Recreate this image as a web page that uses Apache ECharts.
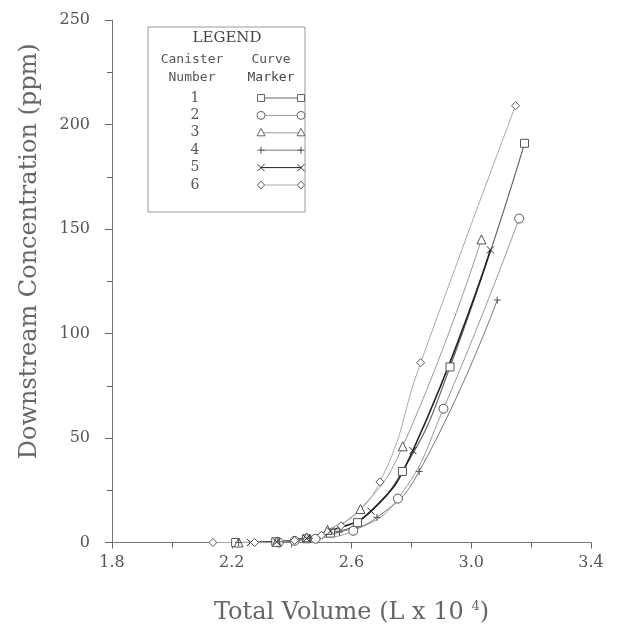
<!DOCTYPE html>
<html>
<head>
<meta charset="utf-8">
<script src="https://cdn.jsdelivr.net/npm/echarts@6/dist/echarts.min.js"></script>
<style>html,body{margin:0;padding:0;background:#fff;}#c{width:629px;height:630px;}</style>
</head>
<body>
<div id="c"></div>
<script>
// ---- data ----
var canisterNames = ['1', '2', '3', '4', '5', '6'];
var xTicks = [1.8, 2.2, 2.6, 3.0, 3.4];
var yTicks = [0, 50, 100, 150, 200, 250];
var canister1 = [[2.213,0],[2.347,0.4],[2.45,1.8],[2.53,4.5],[2.62,9.5],[2.77,34],[2.929,84],[3.178,191]];
var canister2 = [[2.357,0],[2.41,0.8],[2.48,1.8],[2.606,5.6],[2.755,21],[2.907,64],[3.16,155]];
var canister3 = [[2.223,0],[2.35,0.3],[2.45,2.5],[2.52,6],[2.63,16],[2.771,46],[3.034,145]];
var canister4 = [[2.223,0],[2.36,0.3],[2.46,2],[2.56,5],[2.685,12],[2.826,34],[3.087,116]];
var canister5 = [[2.263,0],[2.35,0.3],[2.45,2],[2.53,5.5],[2.665,15],[2.805,44],[3.064,140]];
var canister6 = [[2.137,0],[2.276,0],[2.41,1],[2.50,3.5],[2.565,8],[2.695,29],[2.831,86],[3.148,209]];
var allData = [canister1, canister2, canister3, canister4, canister5, canister6];

// ---- styles ----
var symbols = ['rect', 'circle', 'triangle',
  'path://M5,0L5,10M0,5L10,5',
  'path://M0,0L10,10M10,0L0,10',
  'diamond'];
var lineColors = ['#666', '#999', '#999', '#777', '#222', '#aaa'];
var lineWidths = [1.2, 1, 1, 1, 1.6, 1];
var symSizes = [8, 9, 9, 7, 7, 8];

var FONT = 'DejaVu Serif';
var series = allData.map(function (d, i) {
  return {
    name: canisterNames[i],
    type: 'line',
    data: d,
    smooth: 0.5,
    symbol: symbols[i],
    symbolSize: symSizes[i],
    showAllSymbol: true,
    lineStyle: {color: lineColors[i], width: lineWidths[i]},
    itemStyle: {color: '#fff', borderColor: i === 4 ? '#222' : '#555', borderWidth: 1},
    emphasis: {disabled: true},
    z: 3
  };
});

// ---- legend box via graphic ----
var gx = 148, gy = 27;
var legendChildren = [
  {type: 'rect', shape: {x: gx, y: gy, width: 157, height: 185},
   style: {fill: '#fff', stroke: '#999', lineWidth: 1}},
  {type: 'text', style: {x: 227, y: 38, text: 'LEGEND', font: '15px "' + FONT + '"', fill: '#444', textAlign: 'center', textVerticalAlign: 'middle'}},
  {type: 'text', style: {x: 192, y: 60, text: 'Canister', font: '13px "DejaVu Sans Mono"', fill: '#555', textAlign: 'center', textVerticalAlign: 'middle'}},
  {type: 'text', style: {x: 192, y: 78, text: 'Number', font: '13px "DejaVu Sans Mono"', fill: '#555', textAlign: 'center', textVerticalAlign: 'middle'}},
  {type: 'text', style: {x: 271, y: 60, text: 'Curve', font: '13px "DejaVu Sans Mono"', fill: '#555', textAlign: 'center', textVerticalAlign: 'middle'}},
  {type: 'text', style: {x: 271, y: 78, text: 'Marker', font: '13px "DejaVu Sans Mono"', fill: '#444', textAlign: 'center', textVerticalAlign: 'middle'}}
];
function markerShape(i, cx, cy) {
  var st = {fill: '#fff', stroke: '#666', lineWidth: 1};
  var r = 3.5;
  if (i === 0) return {type: 'rect', shape: {x: cx - r, y: cy - r, width: 2 * r, height: 2 * r}, style: st};
  if (i === 1) return {type: 'circle', shape: {cx: cx, cy: cy, r: r + 0.5}, style: st};
  if (i === 2) return {type: 'polygon', shape: {points: [[cx, cy - r - 1], [cx + r + 0.5, cy + r - 0.5], [cx - r - 0.5, cy + r - 0.5]]}, style: st};
  if (i === 3) return {type: 'group', children: [
    {type: 'line', shape: {x1: cx - r, y1: cy, x2: cx + r, y2: cy}, style: {stroke: '#555'}},
    {type: 'line', shape: {x1: cx, y1: cy - r, x2: cx, y2: cy + r}, style: {stroke: '#555'}}]};
  if (i === 4) return {type: 'group', children: [
    {type: 'line', shape: {x1: cx - r, y1: cy - r, x2: cx + r, y2: cy + r}, style: {stroke: '#333'}},
    {type: 'line', shape: {x1: cx + r, y1: cy - r, x2: cx - r, y2: cy + r}, style: {stroke: '#333'}}]};
  return {type: 'polygon', shape: {points: [[cx, cy - r - 0.5], [cx + r, cy], [cx, cy + r + 0.5], [cx - r, cy]]}, style: st};
}
canisterNames.forEach(function (n, i) {
  var yy = 98 + i * 17.4;
  legendChildren.push({type: 'text', style: {x: 195, y: yy, text: n, font: '14px "' + FONT + '"', fill: '#555', textAlign: 'center', textVerticalAlign: 'middle'}});
  legendChildren.push({type: 'line', shape: {x1: 260, y1: yy, x2: 302, y2: yy}, style: {stroke: lineColors[i], lineWidth: 1}});
  legendChildren.push(markerShape(i, 261, yy));
  legendChildren.push(markerShape(i, 301, yy));
});

var chart = echarts.init(document.getElementById('c'), null, {renderer: 'canvas'});
chart.setOption({
  backgroundColor: '#fff',
  animation: false,
  grid: {left: 112, right: 38, top: 20, bottom: 85, containLabel: false},
  xAxis: {
    type: 'value', min: xTicks[0], max: xTicks[xTicks.length - 1], interval: 0.4,
    name: 'Total Volume (L x 10 {sup|4})',
    nameLocation: 'middle', nameGap: 58,
    nameTextStyle: {fontFamily: FONT, fontSize: 24, color: '#666',
      rich: {sup: {fontFamily: FONT, fontSize: 13, color: '#666', verticalAlign: 'top', padding: [0, 0, 12, 0]}}},
    axisLine: {show: true, onZero: false, lineStyle: {color: '#777', width: 1}},
    axisTick: {show: true, inside: false, length: 6, lineStyle: {color: '#666'}},
    minorTick: {show: true, splitNumber: 2, length: 5, lineStyle: {color: '#666'}},
    splitLine: {show: false},
    axisLabel: {fontFamily: FONT, fontSize: 16, color: '#555', margin: 12,
      formatter: function (v) { return v.toFixed(1); }}
  },
  yAxis: {
    type: 'value', min: yTicks[0], max: yTicks[yTicks.length - 1], interval: 50,
    name: 'Downstream Concentration (ppm)',
    nameLocation: 'middle', nameGap: 70, nameRotate: 90,
    nameTextStyle: {fontFamily: FONT, fontSize: 24, color: '#666', padding: [0, 0, 0, 60]},
    axisLine: {show: true, onZero: false, lineStyle: {color: '#777', width: 1}},
    axisTick: {show: true, inside: false, length: 7, lineStyle: {color: '#666'}},
    minorTick: {show: true, splitNumber: 2, length: 5, lineStyle: {color: '#666'}},
    splitLine: {show: false},
    axisLabel: {fontFamily: FONT, fontSize: 16, color: '#555', margin: 22}
  },
  graphic: [{type: 'group', children: legendChildren, z: 10}],
  series: series
});
</script>
</body>
</html>
